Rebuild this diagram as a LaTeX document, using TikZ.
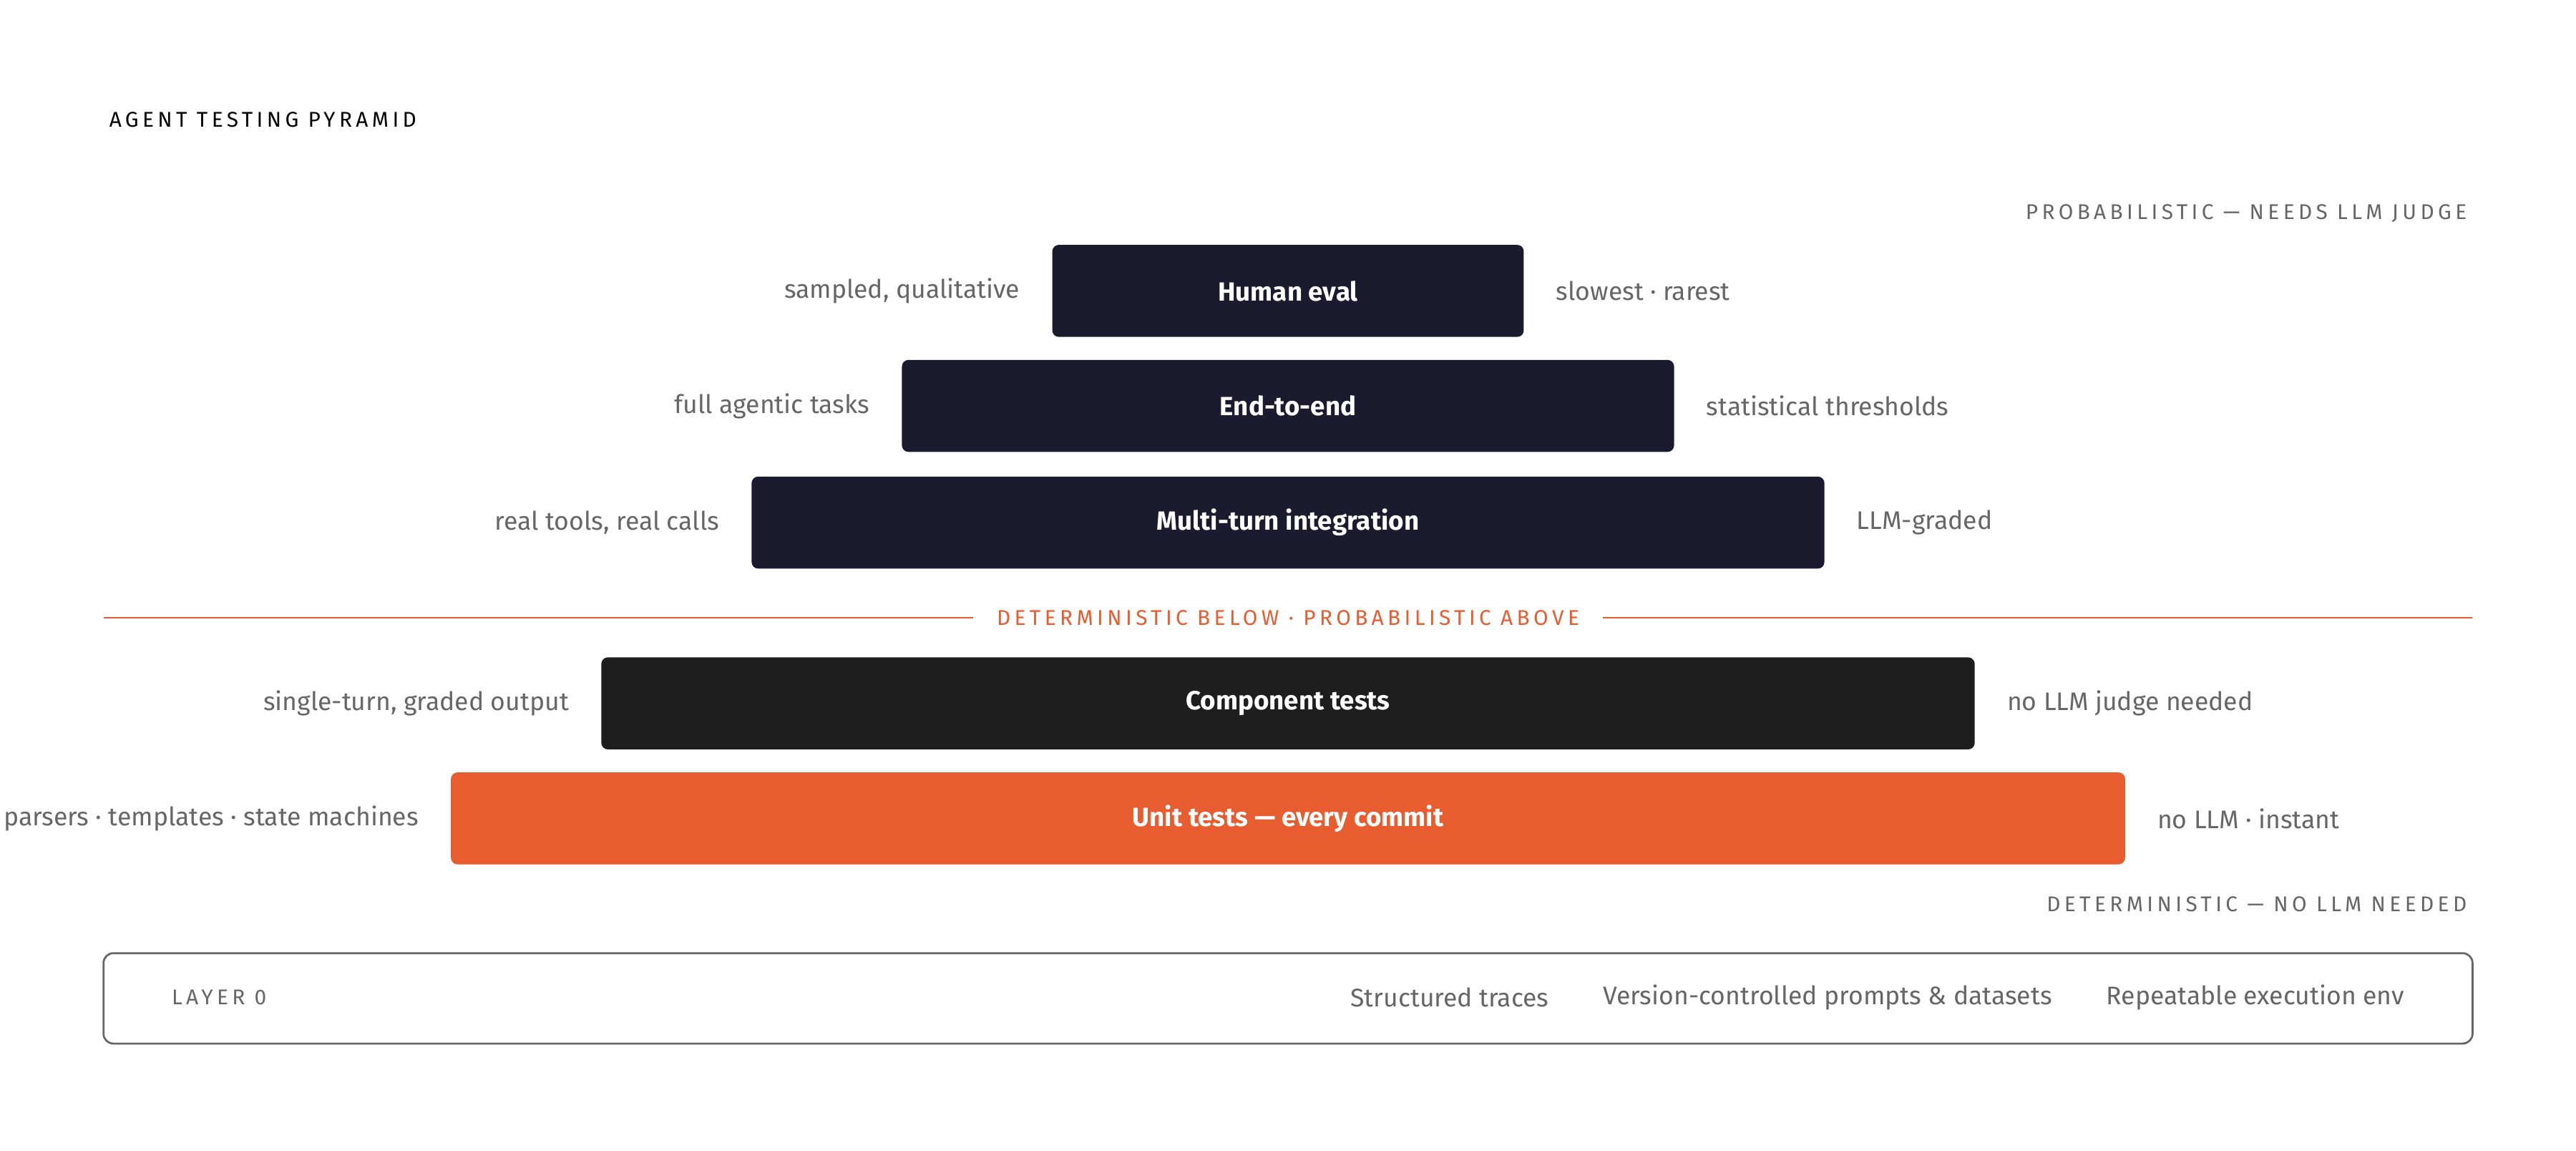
\documentclass[tikz,border=0pt]{standalone}
\usepackage{fontspec}
\setmainfont{Fira Sans}
\newfontfamily\spaced[LetterSpace=18]{Fira Sans}
\usetikzlibrary{positioning}
\definecolor{navy}{HTML}{1B1B30}
\definecolor{coal}{HTML}{1E1E1E}
\definecolor{flame}{HTML}{E85D2F}
\definecolor{muted}{HTML}{666666}
\tikzset{
  tier/.style={rounded corners=4pt,minimum height=56pt,text=white,
    font=\fontsize{16}{19}\selectfont\bfseries},
  side/.style={text=muted,font=\fontsize{15.5}{19}\selectfont},
  caps/.style={text=muted,font=\fontsize{13}{16}\spaced},
}
\begin{document}
\begin{tikzpicture}[x=1pt,y=-1pt]
\useasboundingbox[fill=white] (0,0) rectangle (1568,700);
\node[anchor=west,font=\fontsize{13}{16}\spaced] (title) at (63,73) {AGENT TESTING PYRAMID};
\node[caps,anchor=east] (prob) at (1505,130) {PROBABILISTIC — NEEDS LLM JUDGE};
% tiers
\node[tier,fill=navy,minimum width=287pt] (human) at (784,177) {Human eval};
\node[tier,fill=navy,minimum width=470pt] (e2e) at (784,247) {End-to-end};
\node[tier,fill=navy,minimum width=653pt] (multi) at (784,318) {Multi-turn integration};
\node[tier,fill=coal,minimum width=836pt] (comp) at (784,428) {Component tests};
\node[tier,fill=flame,minimum width=1019pt] (unit) at (784,498) {Unit tests — every commit};
% side notes
\node[side,left=16pt of human] {sampled, qualitative};
\node[side,right=16pt of human] {slowest · rarest};
\node[side,left=16pt of e2e] {full agentic tasks};
\node[side,right=16pt of e2e] {statistical thresholds};
\node[side,left=16pt of multi] {real tools, real calls};
\node[side,right=16pt of multi] {LLM-graded};
\node[side,left=16pt of comp] {single-turn, graded output};
\node[side,right=16pt of comp] {no LLM judge needed};
\node[side,left=16pt of unit] {parsers · templates · state machines};
\node[side,right=16pt of unit] {no LLM · instant};
% divider
\node[caps,text=flame,inner xsep=14pt] (split) at (784,376) {DETERMINISTIC BELOW · PROBABILISTIC ABOVE};
\coordinate (splitL) at (63,376);
\coordinate (splitR) at (1505,376);
\draw[flame,line width=1pt] (splitL) -- (split.west) (split.east) -- (splitR);
\node[caps,anchor=east] (det) at (1505,550) {DETERMINISTIC — NO LLM NEEDED};
% layer 0
\draw[muted,line width=1.2pt,rounded corners=6pt] (63,580) rectangle (1505,635);
\node[caps,anchor=west] (layer) at (101,607) {LAYER 0};
\node[side,anchor=east] (env) at (1467,607) {Repeatable execution env};
\node[side,left=26pt of env] (prompts) {Version-controlled prompts \& datasets};
\node[side,left=26pt of prompts] (traces) {Structured traces};
\end{tikzpicture}
\end{document}
